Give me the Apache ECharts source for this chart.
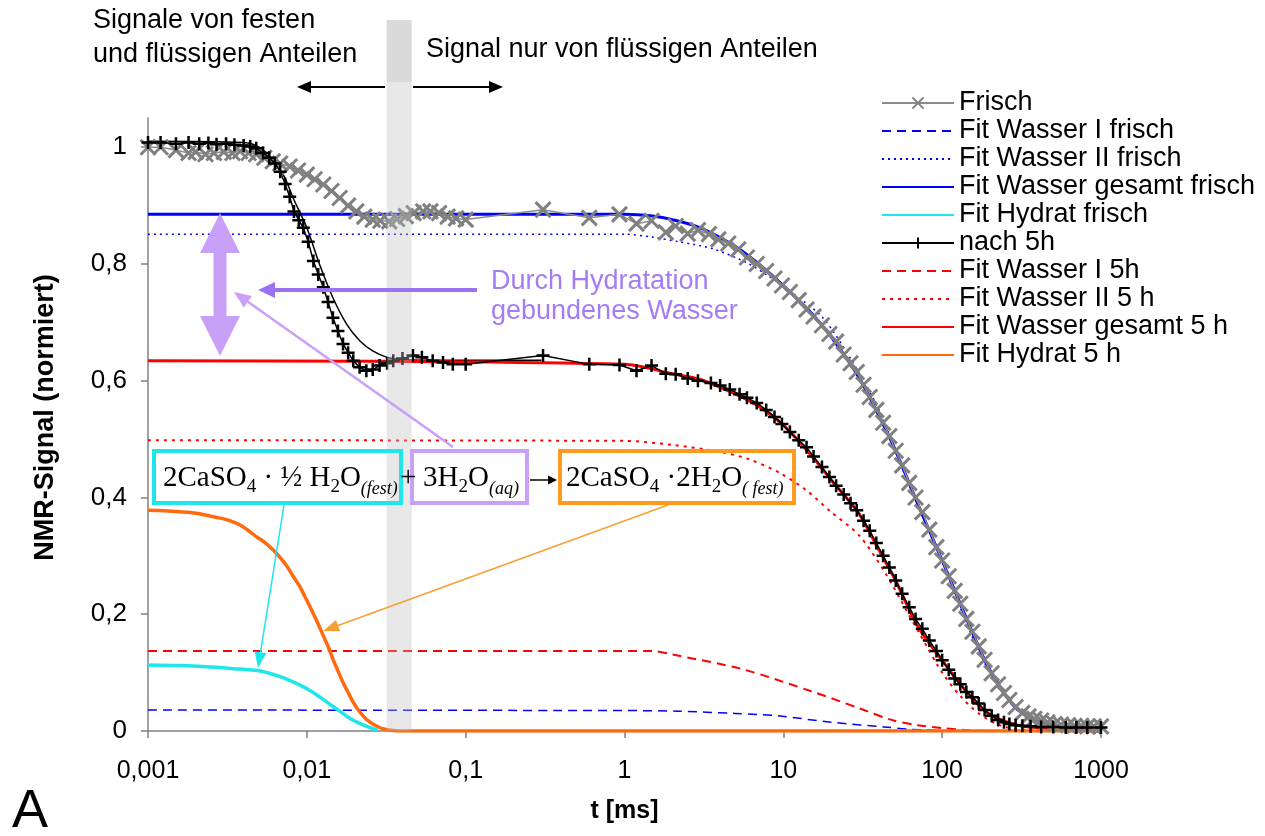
<!DOCTYPE html>
<html>
<head>
<meta charset="utf-8">
<script src="https://cdn.jsdelivr.net/npm/echarts@6/dist/echarts.min.js"></script>
<style>
  html, body { margin: 0; padding: 0; background: #fff; }
  #chart { width: 1265px; height: 836px; }
</style>
</head>
<body>
<div id="chart"></div>
<script>
const FONT = '"Liberation Sans", Arial, sans-serif';
const SERIF = '"Liberation Serif", "DejaVu Serif", serif';

// x values in ms, y values normalised NMR signal
const frischT = [0.001, 0.0012, 0.0015, 0.0018, 0.002, 0.0023, 0.0026, 0.003, 0.0034, 0.0038,
  0.0043, 0.0048, 0.0054, 0.0061, 0.0068, 0.0078, 0.0088, 0.01, 0.0112, 0.0127,
  0.0143, 0.0161, 0.0182, 0.0205, 0.023, 0.026, 0.029, 0.033, 0.037, 0.042,
  0.047, 0.054, 0.06, 0.068, 0.077, 0.087, 0.1,
  0.307, 0.6, 0.93, 1.19, 1.48, 1.82, 2.1, 2.5, 2.9, 3.4, 3.9,
  4.5, 5.2, 5.9, 6.8, 7.8, 8.8, 9.8,
  11, 12.5, 14, 15.5, 17.5, 19.5, 21.5, 24, 26.5, 29,
  32, 35, 38.5, 42.5, 46.5, 51, 56, 62, 68, 75,
  83, 92, 100, 110, 120, 130, 142, 155, 170, 185,
  205, 225, 245, 265, 290, 320, 350, 380, 420, 460,
  510, 560, 620, 680, 750, 820, 900, 1000];
const frischSignal = [1.0, 1.0, 0.995, 0.99, 0.992, 0.988, 0.99, 0.992, 0.99, 0.993,
  0.99, 0.988, 0.982, 0.976, 0.972, 0.967, 0.96, 0.953, 0.945, 0.936,
  0.925, 0.913, 0.9, 0.89, 0.881, 0.876, 0.874, 0.873, 0.877, 0.882,
  0.887, 0.89, 0.89, 0.887, 0.881, 0.878, 0.876,
  0.893, 0.879, 0.885, 0.869, 0.874, 0.854, 0.865, 0.852, 0.858, 0.851, 0.842,
  0.835, 0.825, 0.811, 0.8, 0.788, 0.775, 0.763,
  0.752, 0.738, 0.722, 0.71, 0.695, 0.68, 0.667, 0.645, 0.63, 0.615,
  0.593, 0.572, 0.55, 0.528, 0.505, 0.48, 0.455, 0.425, 0.4, 0.375,
  0.345, 0.315, 0.292, 0.265, 0.24, 0.218, 0.192, 0.17, 0.145, 0.122,
  0.099, 0.08, 0.065, 0.053, 0.041, 0.031, 0.025, 0.021, 0.018, 0.015,
  0.012, 0.011, 0.01, 0.009, 0.009, 0.008, 0.008, 0.008];

const nach5hT = [0.001, 0.0012, 0.0015, 0.0018, 0.0021, 0.0024, 0.0027, 0.0031, 0.0035, 0.004,
  0.0044, 0.0048, 0.0053, 0.0058, 0.0063, 0.0068, 0.0073, 0.0078, 0.0083, 0.0089,
  0.0095, 0.0102, 0.011, 0.0118, 0.0127, 0.0136, 0.0146, 0.0157, 0.0169, 0.0182,
  0.0196, 0.0215, 0.0237, 0.026, 0.0287, 0.032, 0.035, 0.04, 0.0466, 0.053,
  0.062, 0.072, 0.083, 0.1,
  0.307, 0.6, 0.93, 1.19, 1.48, 1.82, 2.1, 2.5, 2.9, 3.5,
  4.0, 4.6, 5.3, 5.9, 6.8, 7.8, 8.8, 9.8, 11, 12.5,
  14, 15.5, 17.5, 19.5, 21.5, 24, 26.5, 29, 32, 35,
  38.5, 42.5, 46.5, 51, 56, 62, 68, 75, 83, 92,
  100, 110, 120, 130, 142, 155, 170, 185, 205, 225,
  245, 265, 290, 320, 360, 420, 500, 600, 700, 820, 1000];
const nach5hSignal = [1.008, 1.008, 1.006, 1.008, 1.006, 1.007, 1.005, 1.006, 1.004, 1.003,
  1.001, 0.998, 0.99, 0.982, 0.972, 0.958, 0.937, 0.915, 0.89, 0.875,
  0.862, 0.838, 0.805, 0.782, 0.76, 0.735, 0.708, 0.685, 0.663, 0.648,
  0.634, 0.623, 0.617, 0.619, 0.626, 0.63, 0.634, 0.638, 0.643, 0.64,
  0.634, 0.631, 0.628, 0.628,
  0.643, 0.628, 0.627, 0.617, 0.626, 0.612, 0.611, 0.604, 0.6, 0.596,
  0.592, 0.585, 0.577, 0.571, 0.562, 0.55, 0.538, 0.526, 0.512, 0.498,
  0.486, 0.47, 0.452, 0.435, 0.42, 0.405, 0.39, 0.378, 0.36, 0.343,
  0.322, 0.3, 0.28, 0.258, 0.235, 0.212, 0.192, 0.175, 0.155, 0.137,
  0.121, 0.105, 0.09, 0.08, 0.067, 0.058, 0.047, 0.036, 0.026, 0.019,
  0.015, 0.012, 0.01, 0.009, 0.008, 0.007, 0.007, 0.006, 0.006, 0.006, 0.006];

// thin black curve of the 5 h sample at short times
const kurve5hT = [0.001, 0.004, 0.005, 0.0061, 0.0072, 0.0082, 0.01, 0.012, 0.0146, 0.0178, 0.0216, 0.026, 0.032, 0.04, 0.1, 0.3];
const kurve5hSignal = [1.01, 1.008, 1.0, 0.979, 0.95, 0.913, 0.862, 0.8, 0.742, 0.697, 0.668, 0.651, 0.64, 0.636, 0.635, 0.635];

const wasserIFrischT = [0.001, 1, 2.15, 5, 9.2, 20, 43, 62, 100, 150];
const wasserIFrisch = [0.036, 0.035, 0.034, 0.03, 0.026, 0.015, 0.007, 0.003, 0.001, 0];

const wasserIIFrischT = [0.001, 1, 1.5, 2.2, 3.6, 5.9, 7.7, 10.9, 17.7, 27.7, 40, 60, 100, 150, 200, 300, 500, 1000];
const wasserIIFrisch = [0.851, 0.851, 0.846, 0.838, 0.826, 0.802, 0.783, 0.754, 0.708, 0.629, 0.55, 0.43, 0.29, 0.17, 0.1, 0.036, 0.008, 0];

const wasserGesamtFrischT = [0.001, 1, 1.5, 2, 3, 5, 7, 10, 15, 20, 30, 40, 50, 70, 100, 150, 200, 300, 500, 1000];
const wasserGesamtFrisch = [0.885, 0.885, 0.882, 0.876, 0.862, 0.83, 0.8, 0.763, 0.716, 0.675, 0.605, 0.54, 0.485, 0.39, 0.292, 0.178, 0.104, 0.036, 0.009, 0];

const hydratFrischT = [0.001, 0.0016, 0.00234, 0.0038, 0.0048, 0.0058, 0.0068, 0.0079, 0.009, 0.0102, 0.0115, 0.013, 0.0146, 0.0165, 0.0186, 0.0215, 0.0249, 0.028];
const hydratFrisch = [0.113, 0.112, 0.11, 0.106, 0.104, 0.099, 0.093, 0.086, 0.079, 0.071, 0.062, 0.052, 0.042, 0.032, 0.022, 0.013, 0.006, 0.001];

const wasserI5hT = [0.001, 1.5, 2, 5.5, 15, 30, 48, 70, 100, 150, 200];
const wasserI5h = [0.137, 0.137, 0.131, 0.106, 0.068, 0.039, 0.019, 0.01, 0.005, 0.001, 0];

const wasserII5hT = [0.001, 1, 2, 4, 6, 9.5, 14, 20, 30, 44, 60, 80, 100, 130, 170, 230, 300, 500];
const wasserII5h = [0.498, 0.497, 0.49, 0.478, 0.466, 0.442, 0.412, 0.375, 0.335, 0.27, 0.205, 0.145, 0.1, 0.06, 0.03, 0.01, 0.003, 0];

const wasserGesamt5hT = [0.001, 1, 2, 3, 5, 7, 10, 15, 20, 30, 40, 50, 70, 100, 150, 200, 300, 500, 1000];
const wasserGesamt5h = [0.634, 0.628, 0.612, 0.602, 0.577, 0.556, 0.524, 0.472, 0.43, 0.372, 0.31, 0.262, 0.18, 0.121, 0.06, 0.028, 0.01, 0.004, 0];

const hydrat5hT = [0.001, 0.0015, 0.002, 0.0028, 0.0033, 0.0038, 0.0043, 0.0048, 0.0055, 0.0061, 0.0068, 0.0075, 0.0082,
  0.009, 0.0099, 0.0109, 0.0118, 0.0127, 0.0137, 0.0146, 0.0157, 0.0169, 0.0182, 0.0196, 0.0215, 0.0237, 0.026, 0.0287, 0.031, 0.0346, 0.04, 1000];
const hydrat5h = [0.378, 0.376, 0.373, 0.365, 0.36, 0.353, 0.343, 0.333, 0.322, 0.311, 0.297, 0.282, 0.265,
  0.248, 0.226, 0.203, 0.183, 0.163, 0.143, 0.123, 0.103, 0.083, 0.066, 0.049, 0.033, 0.02, 0.012, 0.006, 0.003, 0.001, 0, 0];

const legendNames = ['Frisch', 'Fit Wasser I frisch', 'Fit Wasser II frisch', 'Fit Wasser gesamt frisch',
  'Fit Hydrat frisch', 'nach 5h', 'Fit Wasser I 5h', 'Fit Wasser II 5 h',
  'Fit Wasser gesamt 5 h', 'Fit Hydrat 5 h'];
const yTicks = [0, 0.2, 0.4, 0.6, 0.8, 1];
const bandFrom = 0.0318, bandTo = 0.0457;   // grey band between the two regimes

function zip(t, v) {
  return t.map((x, i) => [x, v[i]]);
}
function komma(v) {
  return String(+(+v).toPrecision(6)).replace('.', ',');
}

function fitLine(name, t, v, color, width, dash) {
  return {
    name: name, type: 'line', data: zip(t, v), symbol: 'none', z: 2,
    smooth: 0.3,
    lineStyle: { color: color, width: width, type: dash || 'solid', cap: 'butt' },
    itemStyle: { color: color }
  };
}

const CROSS = 'path://M0,0L10,10M10,0L0,10';
const PLUS = 'path://M5,0L5,10M0,5L10,5';

const chart = echarts.init(document.getElementById('chart'));

chart.setOption({
  animation: false,
  backgroundColor: '#fff',
  textStyle: { fontFamily: FONT },
  grid: { left: 148, right: 164, top: 118, bottom: 105 },
  legend: {
    orient: 'vertical', left: 876, top: 84,
    itemWidth: 72, itemHeight: 14, itemGap: 0,
    textStyle: { fontFamily: FONT, fontSize: 27, color: '#000', lineHeight: 28 },
    data: legendNames.map(n => (n === 'Frisch' || n === 'nach 5h') ? n : { name: n, itemStyle: { opacity: 0 } })
  },
  xAxis: {
    type: 'log', logBase: 10, min: 0.001, max: 1000,
    name: 't [ms]', nameLocation: 'middle', nameGap: 68,
    nameTextStyle: { fontFamily: FONT, fontSize: 25, fontWeight: 'bold', color: '#000' },
    axisLine: { lineStyle: { color: '#808080', width: 1.5 } },
    axisTick: { length: 7, lineStyle: { color: '#808080', width: 1.5 } },
    axisLabel: { margin: 28, fontSize: 25, color: '#000', formatter: komma },
    splitLine: { show: false }
  },
  yAxis: {
    type: 'value', min: 0, max: 1.05,
    name: 'NMR-Signal (normiert)', nameLocation: 'middle', nameRotate: 90, nameGap: 89,
    nameTextStyle: { fontFamily: FONT, fontSize: 27, fontWeight: 'bold', color: '#000', padding: [0, 0, 0, 14] },
    axisLine: { show: true, lineStyle: { color: '#808080', width: 1.5 } },
    axisTick: { show: true, length: 7, customValues: yTicks, lineStyle: { color: '#808080', width: 1.5 } },
    axisLabel: { margin: 21, fontSize: 26, color: '#000', customValues: yTicks, formatter: komma },
    splitLine: { show: false }
  },
  series: [
    {
      name: 'Frisch', type: 'line', data: zip(frischT, frischSignal), z: 4,
      symbol: CROSS, symbolSize: 15, showAllSymbol: true,
      lineStyle: { color: '#8c8c8c', width: 1.5 },
      itemStyle: { color: '#808080', borderColor: '#808080', borderWidth: 3 }
    },
    fitLine('Fit Wasser I frisch', wasserIFrischT, wasserIFrisch, '#0000ff', 1.5, [9, 6]),
    fitLine('Fit Wasser II frisch', wasserIIFrischT, wasserIIFrisch, '#0000ff', 1.5, [2, 4]),
    fitLine('Fit Wasser gesamt frisch', wasserGesamtFrischT, wasserGesamtFrisch, '#0000ff', 3),
    fitLine('Fit Hydrat frisch', hydratFrischT, hydratFrisch, '#1ee6ea', 3.5),
    {
      name: 'nach 5h', type: 'line', data: zip(nach5hT, nach5hSignal), z: 5,
      symbol: PLUS, symbolSize: 13, showAllSymbol: true,
      lineStyle: { color: '#000', width: 1.5 },
      itemStyle: { color: '#000', borderColor: '#000', borderWidth: 2.5 }
    },
    fitLine('Kurve 5h', kurve5hT, kurve5hSignal, '#000', 1.5),
    fitLine('Fit Wasser I 5h', wasserI5hT, wasserI5h, '#ff0000', 2, [9, 6]),
    fitLine('Fit Wasser II 5 h', wasserII5hT, wasserII5h, '#ff0000', 2, [3, 5]),
    fitLine('Fit Wasser gesamt 5 h', wasserGesamt5hT, wasserGesamt5h, '#ff0000', 3),
    fitLine('Fit Hydrat 5 h', hydrat5hT, hydrat5h, '#ff6a0e', 3.5)
  ]
});

function arrow(x1, y1, x2, y2, color, width, len, half) {
  const a = Math.atan2(y2 - y1, x2 - x1);
  const bx = x2 - len * Math.cos(a), by = y2 - len * Math.sin(a);
  const px = -Math.sin(a) * half, py = Math.cos(a) * half;
  return [
    { type: 'line', z: 100, shape: { x1: x1, y1: y1, x2: bx, y2: by }, style: { stroke: color, lineWidth: width } },
    { type: 'polygon', z: 100, shape: { points: [[x2, y2], [bx + px, by + py], [bx - px, by - py]] }, style: { fill: color } }
  ];
}

function text(x, y, str, font, color, extra) {
  return {
    type: 'text', z: 101, x: x, y: y,
    style: Object.assign({ text: str, font: font, fill: color || '#000', verticalAlign: 'middle', textAlign: 'left' }, extra || {})
  };
}

function box(x, y, w, h, color) {
  return { type: 'rect', z: 101, shape: { x: x, y: y, width: w, height: h }, style: { fill: 'none', stroke: color, lineWidth: 4 } };
}

const eqRich = {
  s: { font: '19px ' + SERIF, padding: [18, 0, 0, 0] },
  i: { font: 'italic 18px ' + SERIF, padding: [22, 0, 0, 0] }
};

// band position from the axis scale
const bx1 = chart.convertToPixel({ xAxisIndex: 0 }, bandFrom);
const bx2 = chart.convertToPixel({ xAxisIndex: 0 }, bandTo);
const y0 = chart.convertToPixel({ yAxisIndex: 0 }, 0);

const purple = '#c9a0f8';
const dx = 220;
const doppelPfeil = [[dx, 213], [dx + 20, 253], [dx + 6.5, 253], [dx + 6.5, 316], [dx + 20, 316], [dx, 356],
  [dx - 20, 316], [dx - 6.5, 316], [dx - 6.5, 253], [dx - 20, 253]];

const graphics = [
  { type: 'rect', z: 90, shape: { x: bx1, y: 20, width: bx2 - bx1, height: 62 }, style: { fill: '#dadada' } },
  { type: 'rect', z: 90, shape: { x: bx1, y: 82, width: bx2 - bx1, height: y0 - 82 }, style: { fill: 'rgba(190,190,190,0.35)' } },
  text(93, 21, 'Signale von festen', '27px ' + FONT),
  text(93, 55, 'und flüssigen Anteilen', '27px ' + FONT),
  text(426, 50, 'Signal nur von flüssigen Anteilen', '27px ' + FONT),
  ...arrow(385, 87, 297, 87, '#000', 2, 14, 6),
  ...arrow(413, 87, 503, 87, '#000', 2, 14, 6),
  { type: 'polygon', z: 100, shape: { points: doppelPfeil }, style: { fill: purple } },
  ...arrow(477, 290, 258, 290, '#9b72f2', 4, 17, 8),
  ...arrow(453, 447, 234, 292, purple, 2.5, 17, 7),
  text(491, 282, 'Durch Hydratation', '27px ' + FONT, '#a47cf6'),
  text(491, 312, 'gebundenes Wasser', '27px ' + FONT, '#a47cf6'),
  box(154, 451, 247, 52, '#1ee6ea'),
  box(412, 451, 115, 52, '#c9a0f8'),
  box(560, 451, 234, 52, '#ff9a1e'),
  text(163, 478, '2CaSO{s|4} · ½ H{s|2}O{i|(fest)}', '29px ' + SERIF, '#000', { rich: eqRich }),
  text(400, 478, '+', '29px ' + SERIF),
  text(423, 478, '3H{s|2}O{i|(aq)}', '29px ' + SERIF, '#000', { rich: eqRich }),
  ...arrow(530, 480, 557, 480, '#000', 1.5, 9, 4.5),
  text(566, 478, '2CaSO{s|4} ·2H{s|2}O{i|( fest)}', '29px ' + SERIF, '#000', { rich: eqRich }),
  ...arrow(284, 505, 258, 668, '#1ee6ea', 1.5, 16, 6),
  ...arrow(668, 505, 323, 631, '#f7a030', 1.5, 16, 6),
  text(12, 812, 'A', '54px ' + FONT)
];

chart.setOption({ graphic: graphics });
</script>
</body>
</html>
